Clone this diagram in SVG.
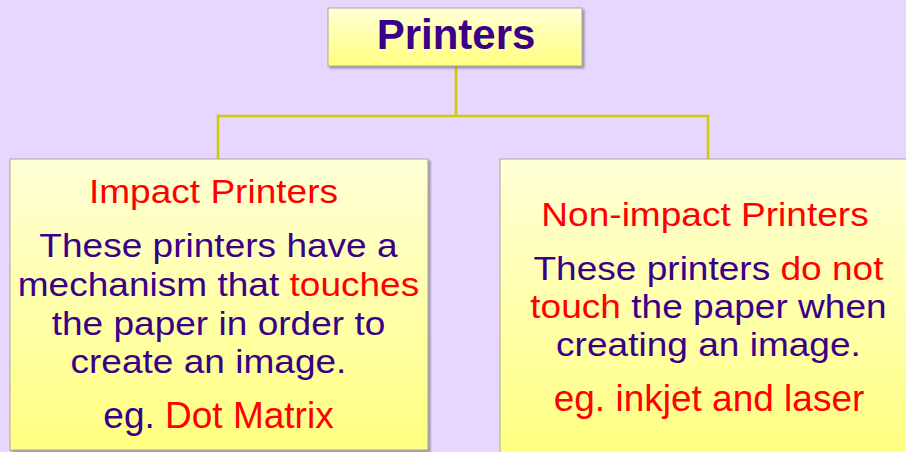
<svg xmlns="http://www.w3.org/2000/svg" width="906" height="452" viewBox="0 0 906 452">
  <defs>
    <linearGradient id="boxFill" x1="0" y1="0" x2="0" y2="1">
      <stop offset="0" stop-color="#FFFFD6"/>
      <stop offset="1" stop-color="#FFFF80"/>
    </linearGradient>
    <filter id="shadow" x="-5%" y="-5%" width="115%" height="115%">
      <feDropShadow dx="2" dy="2" stdDeviation="1.2" flood-color="#555555" flood-opacity="0.55"/>
    </filter>
  </defs>
  <style>
    .box { fill: url(#boxFill); stroke: #A8A8A0; stroke-width: 1; filter: url(#shadow); }
    .conn { fill: none; stroke: #CCCC00; stroke-width: 2.6; }
    .t { font-family: "Liberation Sans", Arial, sans-serif; font-size: 34px; fill: #3A0088; text-anchor: middle; }
    .eg { font-family: "Liberation Sans", Arial, sans-serif; font-size: 37px; fill: #3A0088; text-anchor: middle; }
    .red { fill: #FF0000; }
    .title { font-family: "Liberation Sans", Arial, sans-serif; font-size: 42px; font-weight: bold; fill: #3A0088; text-anchor: middle; }
  </style>
  <rect x="0" y="0" width="906" height="452" fill="#E7D7FF"/>

  <g id="connectors">
    <path class="conn" d="M456 66 V116"/>
    <path class="conn" d="M218 159 V116 H708 V159"/>
  </g>

  <g id="printers">
    <rect class="box" x="328" y="8" width="254" height="58"/>
    <text class="title" x="456" y="49">Printers</text>
  </g>

  <g id="impact">
    <rect class="box" x="10" y="159" width="418" height="291"/>
    <g transform="matrix(1.09,0,0,1,-19.67,0)">
      <text class="t red" x="213.9" y="203">Impact Printers</text>
      <text class="t" x="218.5" y="257">These printers have a</text>
      <text class="t" x="218.5" y="296">mechanism that <tspan class="red">touches</tspan></text>
      <text class="t" x="218.5" y="335">the paper in order to</text>
      <text class="t" x="209.3" y="373">create an image.</text>
    </g>
    <text class="eg" x="218.5" y="427.5">eg. <tspan class="red">Dot Matrix</tspan></text>
  </g>

  <g id="non-impact">
    <rect class="box" x="500" y="159" width="420" height="305"/>
    <g transform="matrix(1.09,0,0,1,-63.77,0)">
      <text class="t red" x="705.3" y="226">Non-impact Printers</text>
      <text class="t" x="708.5" y="280">These printers <tspan class="red">do not</tspan></text>
      <text class="t" x="708.5" y="318"><tspan class="red">touch</tspan> the paper when</text>
      <text class="t" x="708.5" y="356">creating an image.</text>
    </g>
    <text class="eg red" x="709" y="411">eg. inkjet and laser</text>
  </g>
</svg>
